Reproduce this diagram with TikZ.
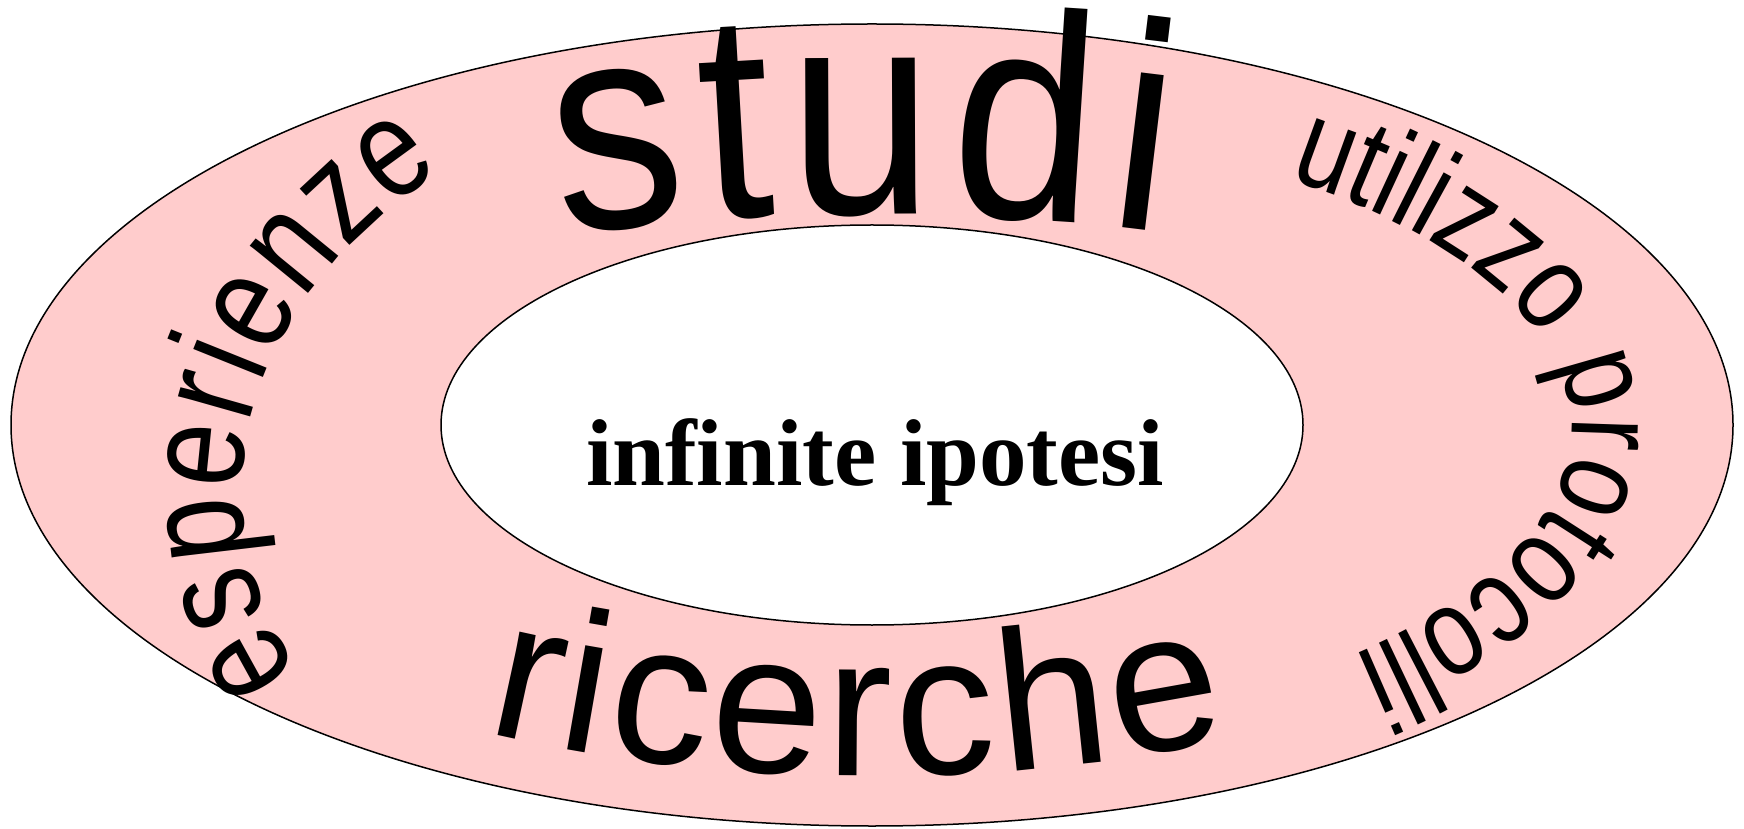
\documentclass[tikz,border=0pt]{standalone}
\usepackage{fontspec}
\setmainfont{Liberation Serif}
\newfontfamily\wafont{Liberation Sans}
\newfontfamily\wanarrow[FakeStretch=0.88]{Liberation Sans}
\newfontfamily\wacondensed[FakeStretch=0.8]{Liberation Sans}
\newfontfamily\centerfont[Ligatures=CommonOff]{Liberation Serif}
\usetikzlibrary{decorations.text}
\definecolor{ringpink}{RGB}{255,204,204}
\begin{document}
\begin{tikzpicture}[x=1pt,y=1pt,
  ringline/.style={draw=black, line width=1.5pt},
  arcword/.style={decorate, decoration={text along path, text={#1}, text align=fit to path}}]
\useasboundingbox (0,0) rectangle (1744,828);
% ring
\path[ringline, fill=ringpink] (872,403) ellipse [x radius=861, y radius=401];
\path[ringline, fill=white] (872,403) ellipse [x radius=431, y radius=200];
% words along the ring
\path[arcword={|\wanarrow\fontsize{295}{300}\selectfont|studi}, shift={(872,403)}]
  (116.3:700 and 211) arc[start angle=116.3, end angle=65.5, x radius=700, y radius=211];
\path[arcword={|\wafont\fontsize{200}{210}\selectfont|ricerche}, shift={(872,403)}]
  (241:800 and 351) arc[start angle=241, end angle=296.5, x radius=800, y radius=351];
\path[arcword={|\wacondensed\fontsize{142}{150}\selectfont|esperienze}, shift={(884,338)}]
  (204.5:642 and 440) arc[start angle=204.5, end angle=133.5, x radius=642, y radius=440];
\path[arcword={|\wacondensed\fontsize{125}{130}\selectfont|utilizzo protocolli}, shift={(872,399)}]
  (53.5:700 and 311) arc[start angle=53.5, end angle=-45.5, x radius=700, y radius=311];
% centre text
\node[font=\centerfont\bfseries\fontsize{95}{100}\selectfont, anchor=base, inner sep=0pt] (hyp) at (875,342) {infinite ipotesi};
\end{tikzpicture}
\end{document}
